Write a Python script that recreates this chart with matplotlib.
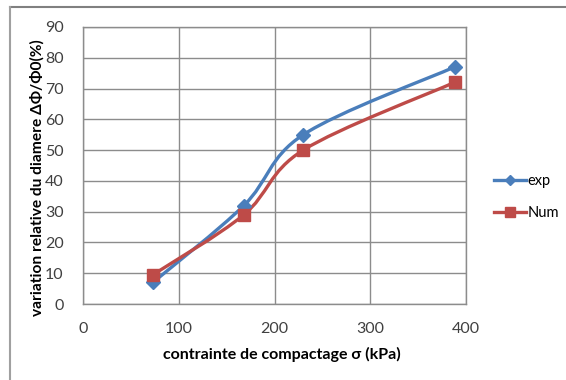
import numpy as np
import matplotlib.pyplot as plt
from matplotlib.lines import Line2D
from matplotlib.path import Path
from matplotlib.patches import PathPatch

plt.rcParams['font.family'] = ['Lato', 'DejaVu Sans']

# compaction stress (kPa) and relative diameter change (%)
sigma = [73, 168, 230, 388]
exp_vals = [7, 32, 55, 77]
num_vals = [9.5, 29, 50, 72]

x_ticks = [0, 100, 200, 300, 400]
y_ticks = [0, 10, 20, 30, 40, 50, 60, 70, 80, 90]

blue = '#4a7ebb'
red = '#be4b48'
grid_col = '#8c8c8c'

fig = plt.figure(figsize=(5.66, 3.80), dpi=100)
ax = fig.add_axes([83 / 566, 1 - 304 / 380, 383 / 566, 277 / 380])


def smooth_path(xs, ys, sx, sy):
    """Bezier path through the points, spreadsheet-style smoothing (done in screen units)."""
    px = np.asarray(xs, float) * sx
    py = np.asarray(ys, float) * sy
    pts = np.column_stack([px, py])
    n = len(pts)
    verts = [pts[0]]
    codes = [Path.MOVETO]
    for i in range(n - 1):
        p0 = pts[i - 1] if i > 0 else pts[i]
        p1 = pts[i]
        p2 = pts[i + 1]
        p3 = pts[i + 2] if i + 2 < n else pts[i + 1]
        c1 = p1 + (p2 - p0) / 6.0
        c2 = p2 - (p3 - p1) / 6.0
        verts += [c1, c2, p2]
        codes += [Path.CURVE4] * 3
    verts = np.array(verts)
    verts[:, 0] /= sx
    verts[:, 1] /= sy
    return Path(verts, codes)


sx = 383 / 400
sy = 277 / 90
for vals, col, mk, ms in [(exp_vals, blue, 'D', 7.5), (num_vals, red, 's', 9)]:
    ax.add_patch(PathPatch(smooth_path(sigma, vals, sx, sy), facecolor='none',
                           edgecolor=col, lw=2.4, zorder=3))
    ax.plot(sigma, vals, ls='none', marker=mk, ms=ms, color=col, zorder=4)

ax.set_xlim(0, 400)
ax.set_ylim(0, 90)
ax.set_xticks(x_ticks)
ax.set_yticks(y_ticks)
ax.grid(True, color=grid_col, lw=1)
ax.set_axisbelow(True)
for s in ax.spines.values():
    s.set_color(grid_col)
    s.set_linewidth(1)
ax.tick_params(length=0, labelsize=11.5, colors='#404040')
ax.tick_params(axis='y', pad=14)
ax.tick_params(axis='x', pad=13)

ax.set_xlabel('contrainte de compactage σ (kPa)', fontsize=11.5, fontweight='bold')
ax.set_ylabel('variation relative du diamere ΔΦ/Φ0(%)', fontsize=11.2, fontweight='bold')
ax.xaxis.set_label_coords(0.52, -0.155)
ax.yaxis.set_label_coords(-0.1, 0.455)

handles = [Line2D([], [], color=blue, lw=2.4, marker='D', ms=5.5),
           Line2D([], [], color=red, lw=2.4, marker='s', ms=6.5)]
fig.legend(handles, ['exp', 'Num'], loc='center left',
           bbox_to_anchor=(481 / 566, 1 - 197 / 380), frameon=False,
           fontsize=10.5, handlelength=2.2, handletextpad=0.1, labelspacing=1.2)

# outer frame: top and left edges only
fig.add_artist(Line2D([10 / 566, 1], [1 - 7 / 380, 1 - 7 / 380], color='#808080', lw=1.5))
fig.add_artist(Line2D([10 / 566, 10 / 566], [0, 1 - 7 / 380], color='#a0a0a0', lw=1.5))

fig.savefig('out.png', dpi=100)
